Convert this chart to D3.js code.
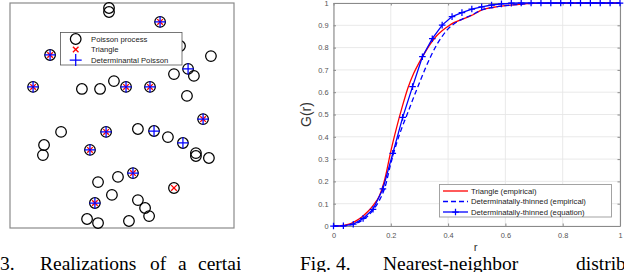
<!DOCTYPE html>
<html><head><meta charset="utf-8">
<script src="https://cdn.jsdelivr.net/npm/d3@7"></script>
<style>body{margin:0;background:#fff}svg{display:block}</style>
</head><body>
<svg id="c" width="624" height="272"></svg>
<script>
// ---------- Data: left panel (unit square) ----------
const poissonPts = [
 [0.442,0.978],[0.442,0.960],[0.670,0.916],[0.759,0.809],[0.179,0.769],[0.897,0.764],
 [0.795,0.707],[0.821,0.676],[0.732,0.684],[0.103,0.627],[0.321,0.618],[0.402,0.618],
 [0.464,0.653],[0.518,0.627],[0.625,0.627],[0.790,0.587],[0.862,0.484],[0.228,0.427],
 [0.429,0.427],[0.571,0.440],[0.643,0.431],[0.705,0.404],[0.772,0.378],[0.152,0.369],
 [0.147,0.324],[0.357,0.347],[0.830,0.333],[0.830,0.320],[0.888,0.311],[0.549,0.244],
 [0.482,0.227],[0.393,0.204],[0.732,0.178],[0.455,0.147],[0.571,0.124],[0.603,0.089],
 [0.621,0.053],[0.379,0.111],[0.344,0.040],[0.393,0.022],[0.531,0.031]
];
const trianglePts = [
 [0.670,0.916],[0.179,0.769],[0.103,0.627],[0.518,0.627],[0.625,0.627],[0.862,0.484],
 [0.429,0.427],[0.357,0.347],[0.549,0.244],[0.732,0.178],[0.379,0.111]
];
const determinantalPts = [
 [0.670,0.916],[0.179,0.769],[0.795,0.707],[0.103,0.627],[0.518,0.627],[0.625,0.627],
 [0.862,0.484],[0.429,0.427],[0.643,0.431],[0.772,0.378],[0.357,0.347],[0.549,0.244],
 [0.379,0.111]
];
const leftLegend = ["Poisson process","Triangle","Determinantal Poisson"];

// ---------- Data: right panel ----------
const empR = [0,0.02,0.04,0.06,0.08,0.10,0.12,0.14,0.16,0.18,0.20,0.22,0.24,0.26,0.28,0.30,0.32,0.34,0.36,0.38,0.40,0.42,0.45,0.48,0.52,0.56,0.60,0.65,0.70,0.80,0.90,1.0];
const triangleG = [0,0.001,0.004,0.011,0.024,0.042,0.065,0.095,0.135,0.215,0.335,0.44,0.535,0.62,0.685,0.735,0.78,0.82,0.853,0.877,0.896,0.912,0.928,0.943,0.97,0.981,0.988,0.994,0.998,1,1,1];
const dtEmpG = [0,0,0.002,0.005,0.012,0.026,0.045,0.075,0.115,0.175,0.28,0.37,0.445,0.51,0.578,0.642,0.705,0.762,0.812,0.852,0.884,0.906,0.928,0.945,0.97,0.981,0.988,0.994,0.998,1,1,1];
const eqR = [0,0.0345,0.069,0.1034,0.1379,0.1724,0.2069,0.2414,0.2759,0.3103,0.3448,0.3793,0.4138,0.4483,0.4828,0.5172,0.5517,0.5862,0.6207,0.6552,0.6897,0.7241,0.7586,0.7931,0.8276,0.8621,0.8966,0.931,0.9655,1];
const dtEqG = [0,0.001,0.008,0.034,0.075,0.166,0.326,0.487,0.625,0.759,0.84,0.901,0.939,0.957,0.973,0.983,0.991,0.996,0.999,1,1,1,1,1,1,1,1,1,1,1];
const xTicks = [0,0.2,0.4,0.6,0.8,1];
const xTickLabels = ["0","0.2","0.4","0.6","0.8","1"];
const yTicks = [0,0.1,0.2,0.3,0.4,0.5,0.6,0.7,0.8,0.9,1];
const yTickLabels = ["0","0.1","0.2","0.3","0.4","0.5","0.6","0.7","0.8","0.9","1"];
const rightLegend = ["Triangle (empirical)","Determinatally-thinned (empirical)","Determinatally-thinned (equation)"];
const captionLeft = [["3.",0],["Realizations",40],["of",150],["a",178],["certain",198]];
const captionRight = [["Fig.",300],["4.",336],["Nearest-neighbor",383],["distribution",576]];

const svg = d3.select("#c");
const sans = "'Liberation Sans', Arial, Helvetica, sans-serif";

// ================= LEFT PANEL =================
const lx = d3.scaleLinear([0,1],[10,234]);
const ly = d3.scaleLinear([0,1],[228,3]);
const L = svg.append("g");
L.append("rect").attr("x",lx(0)).attr("y",ly(1)).attr("width",lx(1)-lx(0)).attr("height",ly(0)-ly(1))
 .attr("fill","#fff").attr("stroke","#8a8a8a").attr("stroke-width",1.2);

function circ(g,x,y,r){ g.append("circle").attr("cx",x).attr("cy",y).attr("r",r).attr("fill","none").attr("stroke","#000").attr("stroke-width",1.25); }
function xmark(g,x,y,s){ g.append("path").attr("d",`M${x-s},${y-s}L${x+s},${y+s}M${x-s},${y+s}L${x+s},${y-s}`).attr("stroke","#ff0000").attr("stroke-width",1.3).attr("fill","none"); }
function pmark(g,x,y,s,c){ g.append("path").attr("d",`M${x-s},${y}L${x+s},${y}M${x},${y-s}L${x},${y+s}`).attr("stroke",c||"#0000ff").attr("stroke-width",1.25).attr("fill","none"); }

poissonPts.forEach(p=>circ(L,lx(p[0]),ly(p[1]),5.3));
trianglePts.forEach(p=>xmark(L,lx(p[0]),ly(p[1]),2.8));
determinantalPts.forEach(p=>pmark(L,lx(p[0]),ly(p[1]),5.6));

// left legend
const LL = L.append("g");
LL.append("rect").attr("x",60.5).attr("y",32.5).attr("width",121.5).attr("height",32.5)
 .attr("fill","#fff").attr("stroke","#555").attr("stroke-width",0.8);
const lly=[39,49.5,60];
circ(LL,75.7,lly[0],5.3); xmark(LL,75.7,lly[1],2.8); pmark(LL,75.7,lly[2],6);
leftLegend.forEach((t,i)=>LL.append("text").attr("x",91).attr("y",lly[i]+2.8).text(t)
 .attr("font-family",sans).attr("font-size",7.7).attr("fill","#222"));

// ================= RIGHT PANEL =================
const rx = d3.scaleLinear([0,1],[333.5,620]);
const ry = d3.scaleLinear([0,1],[226,3]);
const R = svg.append("g");
// grid
R.append("g").selectAll("line").data(xTicks).join("line")
 .attr("x1",d=>rx(d)).attr("x2",d=>rx(d)).attr("y1",ry(0)).attr("y2",ry(1))
 .attr("stroke","#e6e6e6").attr("stroke-width",0.9);
R.append("g").selectAll("line").data(yTicks).join("line")
 .attr("x1",rx(0)).attr("x2",rx(1)).attr("y1",d=>ry(d)).attr("y2",d=>ry(d))
 .attr("stroke","#e6e6e6").attr("stroke-width",0.9);

// axes
function styleAxis(g){
  g.select(".domain").attr("stroke","#8a8a8a").attr("stroke-width",1.1);
  g.selectAll(".tick line").attr("stroke","#8a8a8a");
  g.selectAll(".tick text").attr("fill","#555").attr("font-family",sans).attr("font-size",7.4);
}
const xa = R.append("g").attr("transform",`translate(0,${ry(0)})`)
 .call(d3.axisBottom(rx).tickValues(xTicks).tickSizeInner(-2.5).tickSizeOuter(0).tickPadding(7).tickFormat((d,i)=>xTickLabels[i]));
styleAxis(xa);
const ya = R.append("g").attr("transform",`translate(${rx(0)},0)`)
 .call(d3.axisLeft(ry).tickValues(yTicks).tickSizeInner(-2.5).tickSizeOuter(0).tickPadding(5).tickFormat((d,i)=>yTickLabels[i]));
styleAxis(ya);
const xt = R.append("g").attr("transform",`translate(0,${ry(1)})`)
 .call(d3.axisTop(rx).tickValues(xTicks).tickSizeInner(-2.5).tickSizeOuter(0).tickFormat(""));
styleAxis(xt);
const yr = R.append("g").attr("transform",`translate(${rx(1)},0)`)
 .call(d3.axisRight(ry).tickValues(yTicks).tickSizeInner(-2.5).tickSizeOuter(0).tickFormat(""));
styleAxis(yr);

// curves
const line = d3.line().x(d=>rx(d[0])).y(d=>ry(d[1]));
const smooth = d3.line().x(d=>rx(d[0])).y(d=>ry(d[1])).curve(d3.curveMonotoneX);
R.append("path").attr("d",smooth(empR.map((r,i)=>[r,triangleG[i]])))
 .attr("fill","none").attr("stroke","#ff0000").attr("stroke-width",1.3);
R.append("path").attr("d",smooth(empR.map((r,i)=>[r,dtEmpG[i]])))
 .attr("fill","none").attr("stroke","#0000ff").attr("stroke-width",1.3).attr("stroke-dasharray","5,3");
R.append("path").attr("d",line(eqR.map((r,i)=>[r,dtEqG[i]])))
 .attr("fill","none").attr("stroke","#0000ff").attr("stroke-width",1.3);
eqR.forEach((r,i)=>pmark(R,rx(r),ry(dtEqG[i]),3.3));

// labels
R.append("text").attr("transform",`translate(311,${(ry(0)+ry(1))/2}) rotate(-90)`).attr("text-anchor","middle")
 .attr("font-family",sans).attr("font-size",14).attr("fill","#333").text("G(r)");
R.append("text").attr("x",(rx(0)+rx(1))/2 - 1).attr("y",251).attr("text-anchor","middle")
 .attr("font-family",sans).attr("font-size",11.5).attr("fill","#333").text("r");

// right legend
const RL = R.append("g");
RL.append("rect").attr("x",439.5).attr("y",184.5).attr("width",172).attr("height",32.5)
 .attr("fill","#fff").attr("stroke","#9a9a9a").attr("stroke-width",0.9);
const rly=[191,201.5,212];
RL.append("line").attr("x1",443).attr("x2",468).attr("y1",rly[0]).attr("y2",rly[0]).attr("stroke","#ff0000").attr("stroke-width",1.3);
RL.append("line").attr("x1",443).attr("x2",468).attr("y1",rly[1]).attr("y2",rly[1]).attr("stroke","#0000ff").attr("stroke-width",1.3).attr("stroke-dasharray","5,3");
RL.append("line").attr("x1",443).attr("x2",468).attr("y1",rly[2]).attr("y2",rly[2]).attr("stroke","#0000ff").attr("stroke-width",1.3);
pmark(RL,455.5,rly[2],3.3);
rightLegend.forEach((t,i)=>RL.append("text").attr("x",471).attr("y",rly[i]+2.7).text(t)
 .attr("font-family",sans).attr("font-size",7.7).attr("fill","#222"));

// captions (left one cropped with its panel)
svg.append("clipPath").attr("id","lcap").append("rect").attr("x",0).attr("y",240).attr("width",241).attr("height",32);
const serif = "'Liberation Serif','Times New Roman',serif";
const capL = svg.append("g").attr("clip-path","url(#lcap)");
captionLeft.forEach(([t,x])=>capL.append("text").attr("x",x).attr("y",270)
 .attr("font-family",serif).attr("font-size",19.5).attr("fill","#000").text(t));
captionRight.forEach(([t,x])=>svg.append("text").attr("x",x).attr("y",270)
 .attr("font-family",serif).attr("font-size",19.5).attr("fill","#000").text(t));
</script>
</body></html>
